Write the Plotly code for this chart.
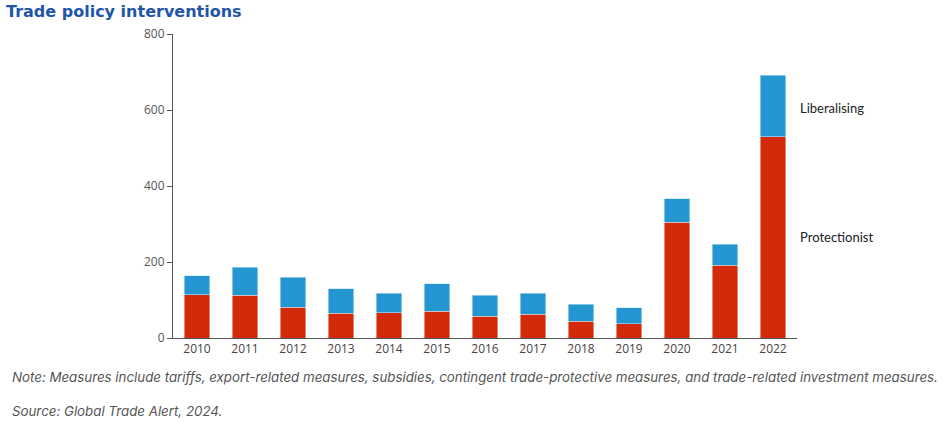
import plotly.graph_objects as go

years = ["2010", "2011", "2012", "2013", "2014", "2015", "2016", "2017", "2018", "2019", "2020", "2021", "2022"]
protectionist = [114, 113, 81, 65, 67, 71, 57, 63, 44, 37, 305, 191, 530]
totals = [164, 186, 160, 129, 118, 143, 113, 118, 89, 79, 367, 247, 691]
liberalising = [t - p for t, p in zip(totals, protectionist)]
y_ticks = [0, 200, 400, 600, 800]

RED = "#d42a0c"
BLUE = "#2396d0"

L, R, T, B = 173, 148, 34, 90
W, H = 945, 428
PW = W - L - R
PH = H - T - B

fig = go.Figure()
fig.add_trace(go.Bar(x=years, y=protectionist, name="Protectionist",
                     marker=dict(color=RED, line=dict(color="#f3c9bf", width=0.6))))
fig.add_trace(go.Bar(x=years, y=liberalising, name="Liberalising",
                     marker=dict(color=BLUE, line=dict(color="#bfe3f3", width=0.6))))

fig.update_layout(
    barmode="stack",
    bargap=0.46,
    width=W, height=H,
    margin=dict(l=L, r=R, t=T, b=B),
    paper_bgcolor="white", plot_bgcolor="white",
    showlegend=False,
    font=dict(family="Open Sans, sans-serif", size=12, color="#555"),
)
fig.update_xaxes(
    type="category", range=[-0.5, 12.5],
    showline=True, linecolor="#555", linewidth=1,
    ticks="", showgrid=False,
    tickfont=dict(family="Open Sans, sans-serif", size=12, color="#444"),
)
fig.update_yaxes(
    range=[0, 800], tickvals=y_ticks,
    showline=True, linecolor="#555", linewidth=1,
    ticks="outside", ticklen=5, tickcolor="#555",
    showgrid=False, zeroline=False,
    tickfont=dict(family="Open Sans, sans-serif", size=12, color="#555"),
)

fig.add_annotation(text="<b>Trade policy interventions</b>", xref="paper", yref="paper",
                   x=-L / PW, y=1 + (T - 12) / PH, xanchor="left", yanchor="middle",
                   xshift=5, showarrow=False, borderpad=0,
                   font=dict(family="DejaVu Sans, sans-serif", size=16, color="#1f55a8"))
fig.add_annotation(text="Liberalising", xref="paper", yref="y", x=1, y=606,
                   xanchor="left", yanchor="middle", xshift=1, showarrow=False,
                   font=dict(family="Lato, sans-serif", size=13, color="#222"))
fig.add_annotation(text="Protectionist", xref="paper", yref="y", x=1, y=266,
                   xanchor="left", yanchor="middle", xshift=1, showarrow=False,
                   font=dict(family="Lato, sans-serif", size=13, color="#222"))
fig.add_annotation(text="<i>Note: Measures include tariffs, export-related measures, subsidies, contingent trade-protective measures, and trade-related investment measures.</i>",
                   xref="paper", yref="paper", x=-L / PW, y=-(377 - 338) / PH,
                   xanchor="left", yanchor="middle", xshift=10, showarrow=False,
                   font=dict(family="Inter, sans-serif", size=13.3, color="#555"))
fig.add_annotation(text="<i>Source: Global Trade Alert, 2024.</i>",
                   xref="paper", yref="paper", x=-L / PW, y=-(411 - 338) / PH,
                   xanchor="left", yanchor="middle", xshift=10, showarrow=False,
                   font=dict(family="Inter, sans-serif", size=13.3, color="#555"))

fig.write_html("out.html", config={"displayModeBar": False},
               post_script="document.body.style.margin='0';")
